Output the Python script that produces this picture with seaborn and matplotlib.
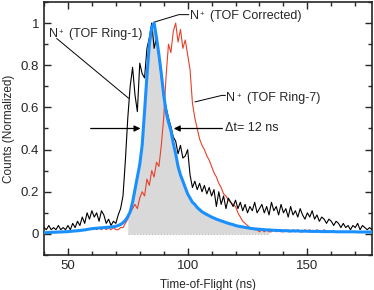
import numpy as np
import pandas as pd
import matplotlib
matplotlib.use("Agg")
import matplotlib.pyplot as plt
from matplotlib.ticker import MultipleLocator, FuncFormatter
import seaborn as sns

# time axis (ns)
t_ring1 = np.arange(40, 178)
t_ring7 = np.arange(60, 161)
t_corr = np.arange(40, 178)

ring1 = [0.03, 0.02, 0.04, 0.02, 0.03, 0.02, 0.04, 0.02, 0.03, 0.02,
         0.04, 0.02, 0.05, 0.03, 0.06, 0.04, 0.08, 0.05, 0.10, 0.07,
         0.11, 0.08, 0.10, 0.06, 0.11, 0.09, 0.05, 0.07, 0.04, 0.06,
         0.05, 0.09, 0.12, 0.18, 0.35, 0.55, 0.70, 0.79, 0.66, 0.58,
         0.81, 0.76, 0.74, 0.88, 0.93, 1.00, 0.88, 0.93, 0.84, 0.74,
         0.65, 0.60, 0.55, 0.51, 0.46, 0.44, 0.38, 0.42, 0.36, 0.37,
         0.40, 0.28, 0.22, 0.25, 0.21, 0.24, 0.20, 0.23, 0.19, 0.22,
         0.18, 0.21, 0.13, 0.20, 0.14, 0.18, 0.12, 0.17, 0.15, 0.13,
         0.16, 0.12, 0.15, 0.11, 0.14, 0.10, 0.13, 0.11, 0.15, 0.10,
         0.12, 0.14, 0.10, 0.13, 0.09, 0.15, 0.11, 0.13, 0.09, 0.14,
         0.10, 0.12, 0.08, 0.13, 0.09, 0.11, 0.08, 0.12, 0.09, 0.07,
         0.10, 0.08, 0.11, 0.07, 0.09, 0.06, 0.08, 0.07, 0.05, 0.07,
         0.06, 0.04, 0.06, 0.05, 0.03, 0.05, 0.03, 0.04, 0.02, 0.04,
         0.03, 0.05, 0.02, 0.04, 0.03, 0.02, 0.03, 0.02]

ring7 = [0.02, 0.03, 0.02, 0.03, 0.02, 0.03, 0.02, 0.03, 0.02, 0.03,
         0.02, 0.02, 0.03, 0.03, 0.05, 0.07, 0.10, 0.12, 0.14, 0.12,
         0.17, 0.20, 0.18, 0.26, 0.23, 0.30, 0.27, 0.34, 0.32, 0.42,
         0.55, 0.75, 0.90, 0.86, 0.96, 1.00, 0.91, 0.97, 0.88, 0.92,
         0.85, 0.78, 0.62, 0.55, 0.50, 0.45, 0.42, 0.40, 0.37, 0.35,
         0.32, 0.29, 0.27, 0.24, 0.22, 0.19, 0.18, 0.16, 0.15, 0.14,
         0.13, 0.10, 0.08, 0.06, 0.05, 0.04, 0.03, 0.03, 0.02, 0.02,
         0.01, 0.02, 0.01, 0.02, 0.01, 0.01, 0.02, 0.01, 0.02, 0.01,
         0.01, 0.02, 0.01, 0.01, 0.02, 0.01, 0.02, 0.01, 0.01, 0.02,
         0.01, 0.02, 0.01, 0.01, 0.02, 0.01, 0.01, 0.02, 0.01, 0.01,
         0.01]

corrected = [0.006, 0.006, 0.007, 0.007, 0.008, 0.008, 0.009, 0.009, 0.010, 0.010,
             0.011, 0.012, 0.013, 0.014, 0.015, 0.016, 0.018, 0.019, 0.021, 0.023,
             0.025, 0.026, 0.027, 0.028, 0.029, 0.030, 0.031, 0.032, 0.033, 0.034,
             0.036, 0.040, 0.045, 0.053, 0.065, 0.082, 0.105, 0.15, 0.21, 0.27,
             0.33, 0.42, 0.58, 0.75, 0.90, 0.98, 1.00, 0.93, 0.85, 0.76,
             0.66, 0.58, 0.53, 0.49, 0.43, 0.38, 0.32, 0.28, 0.25, 0.22,
             0.19, 0.17, 0.15, 0.14, 0.125, 0.115, 0.105, 0.098, 0.092, 0.086,
             0.080, 0.075, 0.070, 0.066, 0.062, 0.058, 0.054, 0.050, 0.047, 0.044,
             0.040, 0.037, 0.035, 0.033, 0.031, 0.029, 0.027, 0.025, 0.024, 0.023,
             0.022, 0.021, 0.020, 0.019, 0.019, 0.018, 0.017, 0.017, 0.016, 0.016,
             0.015, 0.015, 0.015, 0.014, 0.014, 0.014, 0.014, 0.013, 0.013, 0.013,
             0.013, 0.012, 0.012, 0.012, 0.012, 0.012, 0.011, 0.011, 0.011, 0.011,
             0.011, 0.011, 0.010, 0.010, 0.010, 0.010, 0.010, 0.010, 0.010, 0.010,
             0.010, 0.009, 0.009, 0.009, 0.009, 0.009, 0.009, 0.009]

fill_range = (75, 134)   # shaded part under the corrected curve
fwhm_left, fwhm_right = 80.3, 94.2

df1 = pd.DataFrame({"t": t_ring1, "counts": ring1})
df7 = pd.DataFrame({"t": t_ring7, "counts": ring7})
dfc = pd.DataFrame({"t": t_corr, "counts": corrected})

sns.set_style("ticks")
plt.rcParams["font.family"] = ["Liberation Sans", "DejaVu Sans"]

fig = plt.figure(figsize=(3.74, 2.90), dpi=100)
ax = fig.add_axes([0.1176, 0.1207, 0.8771, 0.8724])

m = (dfc.t >= fill_range[0]) & (dfc.t <= fill_range[1])
ax.fill_between(dfc.t[m], 0, dfc.counts[m], color="#d9d9d9", lw=0, zorder=1)
ax.plot([fill_range[0], fill_range[1]], [0, 0], color="#bbbbbb", lw=0.8, ls=":", zorder=1)

sns.lineplot(data=df1, x="t", y="counts", color="black", lw=0.8, ax=ax, zorder=3)
sns.lineplot(data=df7, x="t", y="counts", color="#e8402a", lw=0.8, ax=ax, zorder=2)
sns.lineplot(data=dfc, x="t", y="counts", color="#1a90ff", lw=2.2, ax=ax, zorder=4)

ax.set_xlim(40, 177)
ax.set_ylim(-0.1, 1.1)
ax.xaxis.set_major_locator(MultipleLocator(50))
ax.xaxis.set_minor_locator(MultipleLocator(10))
ax.yaxis.set_major_locator(MultipleLocator(0.2))
ax.yaxis.set_minor_locator(MultipleLocator(0.1))
ax.yaxis.set_major_formatter(FuncFormatter(lambda v, p: "%g" % round(v, 2)))
ax.tick_params(which="both", direction="in", top=True, right=True, width=1.0, labelsize=9.5)
ax.tick_params(which="major", length=5)
ax.tick_params(which="minor", length=3)
for s in ax.spines.values():
    s.set_linewidth(1.2)

ax.set_xlabel("Time-of-Flight (ns)", fontsize=8.5, labelpad=5)
ax.set_ylabel("Counts (Normalized)", fontsize=8.5, labelpad=4)

fs = 9
# FWHM arrows
ax.annotate("", xy=(fwhm_left, 0.5), xytext=(59.5, 0.5),
            arrowprops=dict(arrowstyle="-|>", color="black", lw=0.9, mutation_scale=9, shrinkA=0, shrinkB=0))
ax.annotate("", xy=(fwhm_right, 0.5), xytext=(114.5, 0.5),
            arrowprops=dict(arrowstyle="-|>", color="black", lw=0.9, mutation_scale=9, shrinkA=0, shrinkB=0))
ax.text(115.6, 0.5, "Δt= 12 ns", fontsize=fs, va="center", ha="left")


def ion_label(x, y, rest):
    tn = ax.text(x, y, "N", fontsize=fs, va="center", ha="left")
    ax.annotate("+", xy=(1, 0.92), xycoords=tn, xytext=(0.8, 0), textcoords="offset points",
                fontsize=5.5, va="top", ha="left")
    ax.annotate(rest, xy=(1, 0.5), xycoords=tn, xytext=(8, 0), textcoords="offset points",
                fontsize=fs, va="center", ha="left")


# labels with leader lines
ion_label(41.9, 0.95, "(TOF Ring-1)")
ax.plot([45.3, 75.4], [0.927, 0.643], color="black", lw=0.7)

ion_label(100.8, 1.035, "(TOF Corrected)")
ax.plot([85.9, 96.3, 100.5], [1.004, 1.04, 1.04], color="black", lw=0.7)

ion_label(116.2, 0.645, "(TOF Ring-7)")
ax.plot([103.0, 114.3, 115.8], [0.626, 0.657, 0.657], color="black", lw=0.7)

fig.savefig("out.png", dpi=100)
